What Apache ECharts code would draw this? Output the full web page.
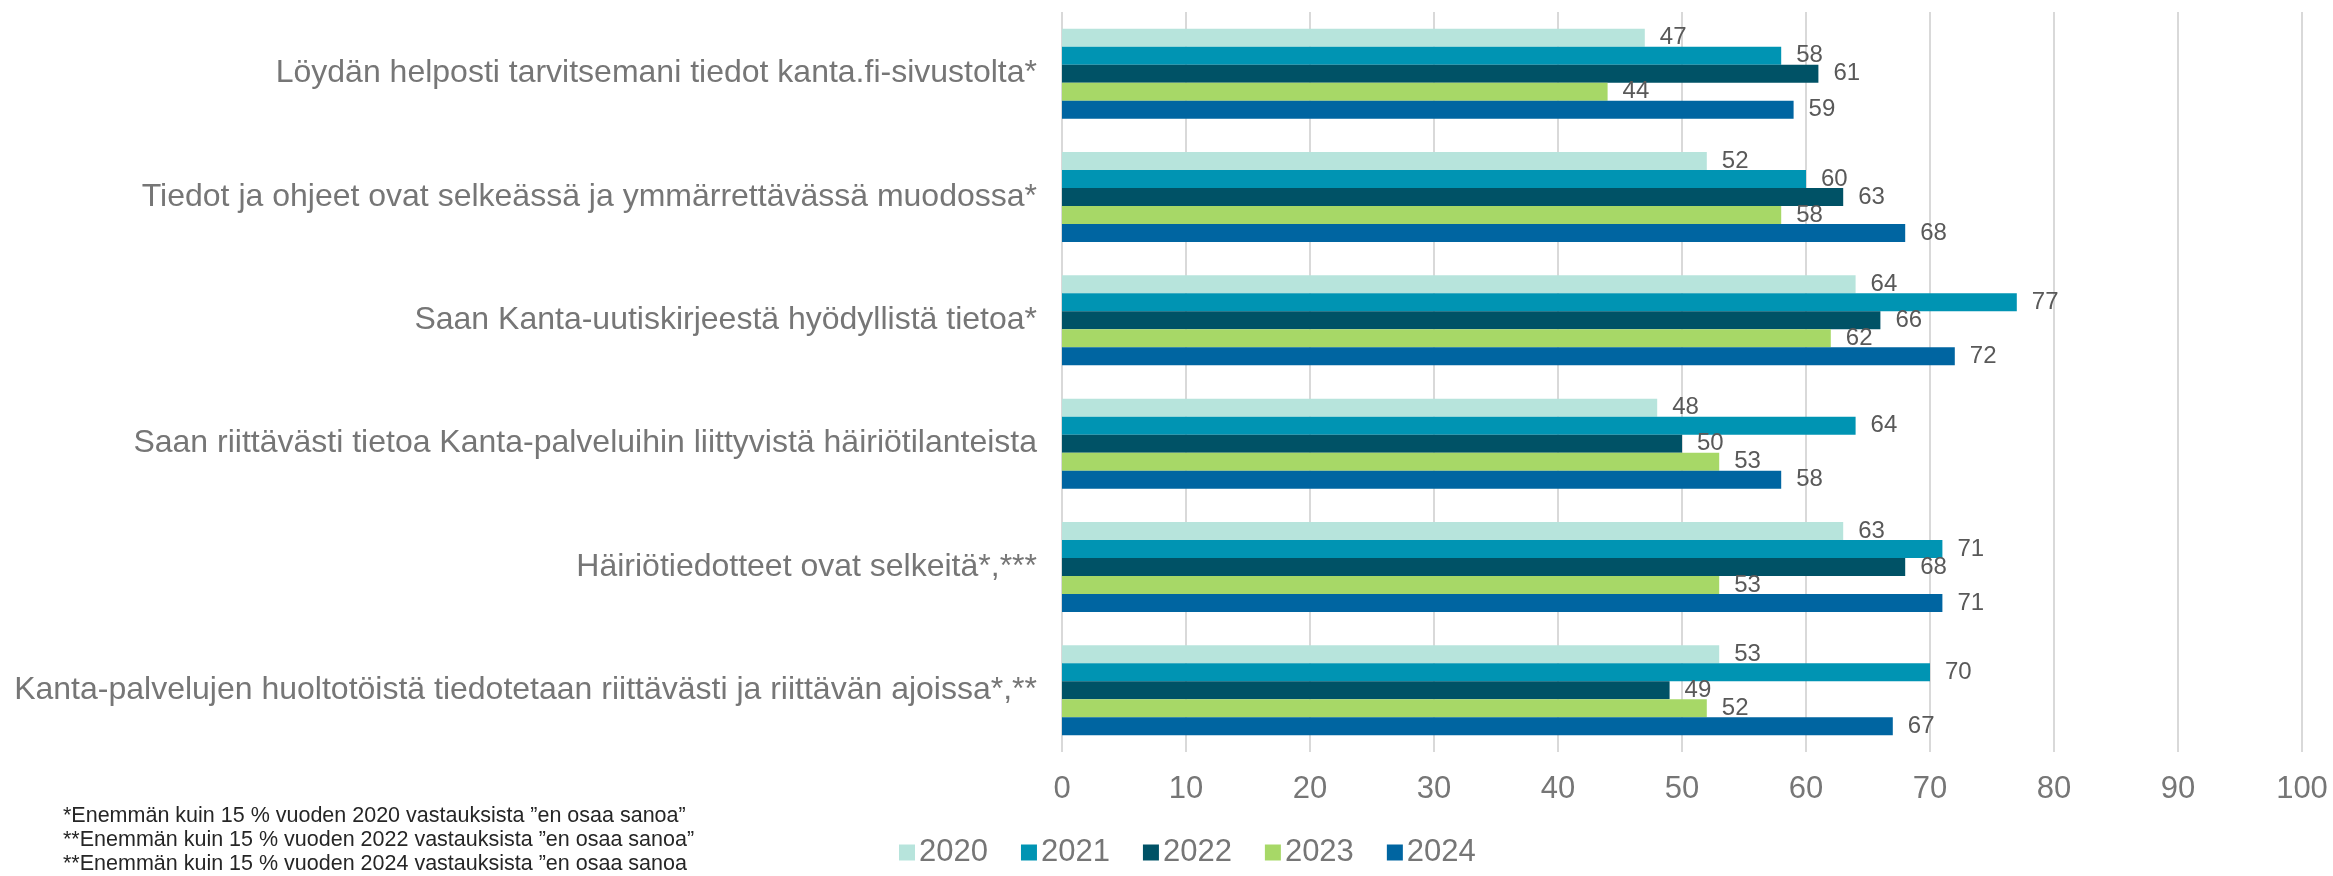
<!DOCTYPE html>
<html>
<head>
<meta charset="utf-8">
<script src="https://cdn.jsdelivr.net/npm/echarts@6/dist/echarts.min.js"></script>
<style>
  html, body { margin: 0; padding: 0; background: #fff; }
  #chart { width: 2333px; height: 876px; }
</style>
</head>
<body>
<div id="chart"></div>
<script>
// categories (top to bottom)
var categories = [
  'Löydän helposti tarvitsemani tiedot kanta.fi-sivustolta*',
  'Tiedot ja ohjeet ovat selkeässä ja ymmärrettävässä muodossa*',
  'Saan Kanta-uutiskirjeestä hyödyllistä tietoa*',
  'Saan riittävästi tietoa Kanta-palveluihin liittyvistä häiriötilanteista',
  'Häiriötiedotteet ovat selkeitä*,***',
  'Kanta-palvelujen huoltotöistä tiedotetaan riittävästi ja riittävän ajoissa*,**'
]

var years = ['2020', '2021', '2022', '2023', '2024']

var values2020 = [47, 52, 64, 48, 63, 53]
var values2021 = [58, 60, 77, 64, 71, 70]
var values2022 = [61, 63, 66, 50, 68, 49]
var values2023 = [44, 58, 62, 53, 53, 52]
var values2024 = [59, 68, 72, 58, 71, 67]

var footnotes = [
  '*Enemmän kuin 15 % vuoden 2020 vastauksista ”en osaa sanoa”',
  '**Enemmän kuin 15 % vuoden 2022 vastauksista ”en osaa sanoa”',
  '**Enemmän kuin 15 % vuoden 2024 vastauksista ”en osaa sanoa'
]

var colors = ['#B7E4DC', '#0094B3', '#005266', '#A7D867', '#0065A1']
var allValues = [values2020, values2021, values2022, values2023, values2024]

var chart = echarts.init(document.getElementById('chart'))

var series = years.map(function(year, i) {
  return {
    name: year,
    type: 'bar',
    data: allValues[i],
    barGap: '0%',
    barCategoryGap: '27%',
    itemStyle: { color: colors[i] },
    label: {
      show: true,
      position: 'right',
      distance: 15,
      color: '#595959',
      fontSize: 24,
      fontFamily: 'Liberation Sans, Arial, sans-serif'
    }
  }
})

chart.setOption({
  animation: false,
  color: colors,
  textStyle: { fontFamily: 'Liberation Sans, Arial, sans-serif' },
  grid: {
    left: 1062,
    right: 31,
    top: 12,
    bottom: 124,
    containLabel: false,
    outerBoundsMode: 'none'
  },
  legend: {
    data: years,
    left: 894,
    top: 832,
    icon: 'rect',
    itemWidth: 16,
    itemHeight: 16,
    itemGap: 33,
    textStyle: {
      color: '#767676',
      fontSize: 31,
      padding: [0, 0, 0, -1]
    }
  },
  xAxis: {
    type: 'value',
    min: 0,
    max: 100,
    interval: 10,
    axisLine: { show: false },
    axisTick: { show: false },
    axisLabel: {
      color: '#767676',
      fontSize: 31,
      margin: 22
    },
    splitLine: {
      lineStyle: { color: '#D9D9D9', width: 2 }
    }
  },
  yAxis: {
    type: 'category',
    inverse: true,
    data: categories,
    axisLine: { show: false },
    axisTick: { show: false },
    axisLabel: {
      color: '#767676',
      fontSize: 32,
      margin: 25
    }
  },
  graphic: footnotes.map(function(t, i) {
    return {
      type: 'text',
      left: 63,
      top: 805 + i * 24,
      style: {
        text: t,
        fill: '#262626',
        fontSize: 21.5,
        fontFamily: 'Liberation Sans, Arial, sans-serif'
      }
    }
  }),
  series: series
})
</script>
</body>
</html>
